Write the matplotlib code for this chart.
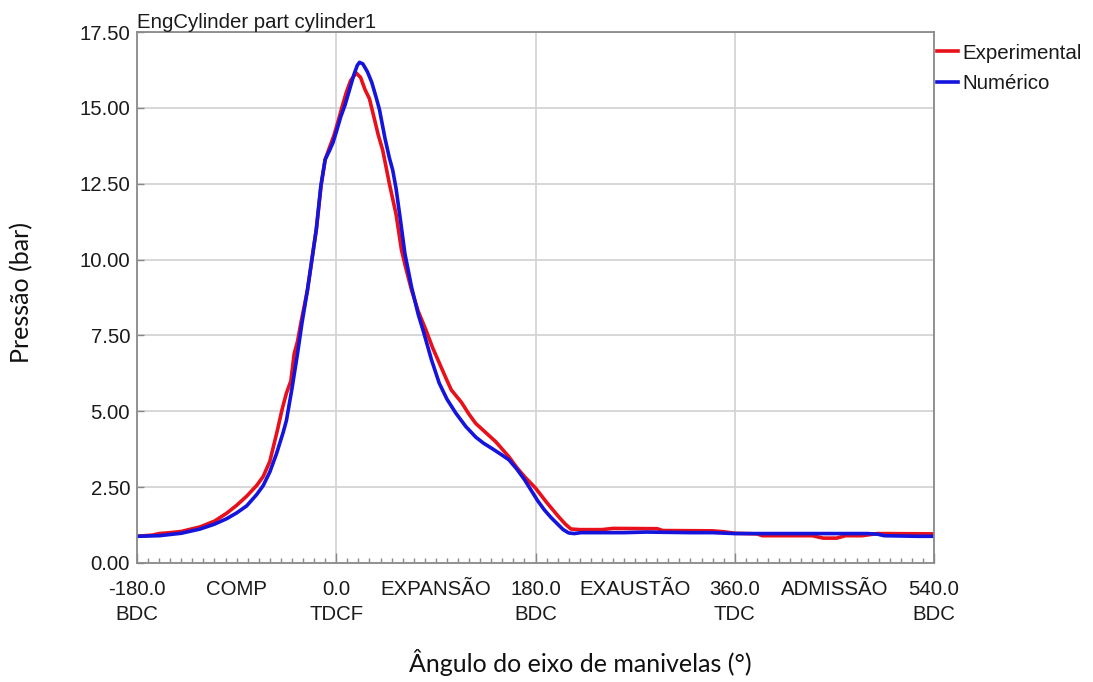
import matplotlib.pyplot as plt
import numpy as np
from matplotlib.ticker import MultipleLocator

# Experimental pressure trace (bar) vs crank angle (deg)
ang_exp = [-180, -166, -160, -150, -140, -123, -110, -99, -90, -81, -72, -66, -60, -57, -53,
           -49, -45, -41, -38, -35, -32, -26, -22, -18, -13.5, -10, -6, -2, 2, 5, 9, 13, 18,
           22, 26, 30, 34, 38, 42, 48, 54, 59, 63, 68, 74, 81, 87, 93, 99, 104, 113, 120, 126,
           135, 144, 150, 156, 163, 170, 180, 190, 201, 207, 212, 220, 240, 250, 290, 295, 340,
           350, 360, 380, 385, 430, 440, 452, 460, 475, 489, 540]
p_exp = [0.88, 0.92, 0.97, 1.00, 1.04, 1.19, 1.38, 1.64, 1.90, 2.20, 2.55, 2.85, 3.35, 3.80, 4.40,
         5.05, 5.60, 6.00, 6.90, 7.30, 7.90, 9.00, 10.0, 11.0, 12.5, 13.3, 13.7, 14.1, 14.6, 15.0, 15.5, 15.9, 16.15,
         16.0, 15.6, 15.3, 14.7, 14.1, 13.6, 12.5, 11.5, 10.3, 9.7, 9.0, 8.3, 7.68, 7.1, 6.6, 6.1, 5.7, 5.3, 4.9, 4.6,
         4.3, 4.0, 3.75, 3.5, 3.15, 2.85, 2.47, 2.0, 1.52, 1.28, 1.12, 1.10, 1.10, 1.14, 1.13, 1.07, 1.06,
         1.03, 0.98, 0.96, 0.90, 0.90, 0.82, 0.82, 0.90, 0.90, 0.97, 0.96]

# Numerical (simulated) pressure trace
ang_num = [-180, -160, -140, -123, -110, -99, -90, -81, -72, -66, -60, -54, -48, -45, -40, -35,
           -31, -26, -22, -18, -14, -10, -6, -3, 0, 4, 8, 12, 16, 19, 21, 24, 28, 32, 36, 39, 44,
           48, 51, 54, 58, 62, 68, 74, 79, 86, 93, 100, 108, 117, 126, 133, 140, 148, 156, 163, 170,
           176, 182, 188, 194, 200, 205, 210, 215, 221, 240, 260, 280, 300, 320, 340, 360, 380,
           420, 460, 480, 489, 495, 510, 525, 540]
p_num = [0.88, 0.90, 0.98, 1.12, 1.28, 1.46, 1.65, 1.88, 2.25, 2.55, 3.0, 3.6, 4.3, 4.7, 5.75, 6.9,
         7.9, 9.0, 10.0, 11.0, 12.4, 13.3, 13.6, 13.85, 14.2, 14.7, 15.1, 15.6, 16.1, 16.4, 16.5, 16.45, 16.2, 15.85, 15.35, 14.95, 14.0,
         13.35, 12.95, 12.35, 11.3, 10.2, 9.1, 8.2, 7.6, 6.7, 5.93, 5.4, 4.94, 4.5, 4.15, 3.95, 3.79, 3.6, 3.4, 3.1, 2.75,
         2.4, 2.05, 1.75, 1.5, 1.28, 1.1, 0.99, 0.97, 1.0, 1.0, 1.0, 1.02, 1.01, 1.0, 1.0, 0.97, 0.97,
         0.97, 0.97, 0.97, 0.95, 0.90, 0.89, 0.88, 0.88]

major_pos = [-180, 0, 180, 360, 540]
major_lbl = ["-180.0\nBDC", "0.0\nTDCF", "180.0\nBDC", "360.0\nTDC", "540.0\nBDC"]
phase_pos = [-90, 90, 270, 450]
phase_lbl = ["COMP", "EXPANSÃO", "EXAUSTÃO", "ADMISSÃO"]

plt.rcParams['font.family'] = ['Liberation Sans', 'DejaVu Sans']
txt_col = '#1a1a1a'
fs = 14.7

fig = plt.figure(figsize=(10.93, 6.82), dpi=100)
ax = fig.add_axes([137/1093, 1-563/682, (934-137)/1093, (563-32)/682])

ax.plot(ang_exp, p_exp, color='#e8101a', lw=2.6, label='Experimental', solid_joinstyle='round')
ax.plot(ang_num, p_num, color='#1414dc', lw=2.6, label='Numérico', solid_joinstyle='round')

ax.set_xlim(-180, 540)
ax.set_ylim(0, 17.5)
ax.set_yticks(np.arange(0, 17.51, 2.5))
ax.set_yticklabels(["%.2f" % v for v in np.arange(0, 17.51, 2.5)])
ax.set_xticks(major_pos)
ax.set_xticklabels([])
ax.xaxis.set_minor_locator(MultipleLocator(10))

ax.tick_params(axis='x', which='major', direction='in', length=7, width=1, color='#888888')
ax.tick_params(axis='x', which='minor', direction='in', length=3.5, width=1, color='#888888')
ax.tick_params(axis='y', which='major', direction='in', length=5, width=1, color='#888888',
               labelsize=fs, pad=5, labelcolor=txt_col)

# x labels: angle + dead centre under each major tick, stroke phase in between
for p, t in zip(major_pos + phase_pos, major_lbl + phase_lbl):
    ax.annotate(t, xy=(p, 0), xycoords=('data', 'axes fraction'), xytext=(0, -12.5),
                textcoords='offset points', ha='center', va='top', fontsize=fs,
                color=txt_col, linespacing=1.36)

ax.grid(True, which='major', color='#d4d4d4', lw=1.3)
ax.set_axisbelow(True)
for s in ax.spines.values():
    s.set_color('#8a8a8a')
    s.set_linewidth(1.3)

ax.set_title("EngCylinder part cylinder1", loc='left', fontsize=fs, pad=3, color=txt_col)

fig.legend(loc='upper left', bbox_to_anchor=(0.857, 0.936), frameon=False, fontsize=14.8,
           handlelength=1.05, handletextpad=0.2, labelspacing=0.55, borderpad=0, borderaxespad=0,
           labelcolor=txt_col)

fig.text(22/1093, 1-292/682, "Pressão (bar)", rotation=90, ha='center', va='center',
         fontsize=18, family=['Lato', 'DejaVu Sans'], color='#111111')
fig.text(580/1093, 1-662/682, "Ângulo do eixo de manivelas (°)", ha='center', va='center',
         fontsize=18, family=['Lato', 'DejaVu Sans'], color='#111111')

plt.savefig("out.png", dpi=100)
